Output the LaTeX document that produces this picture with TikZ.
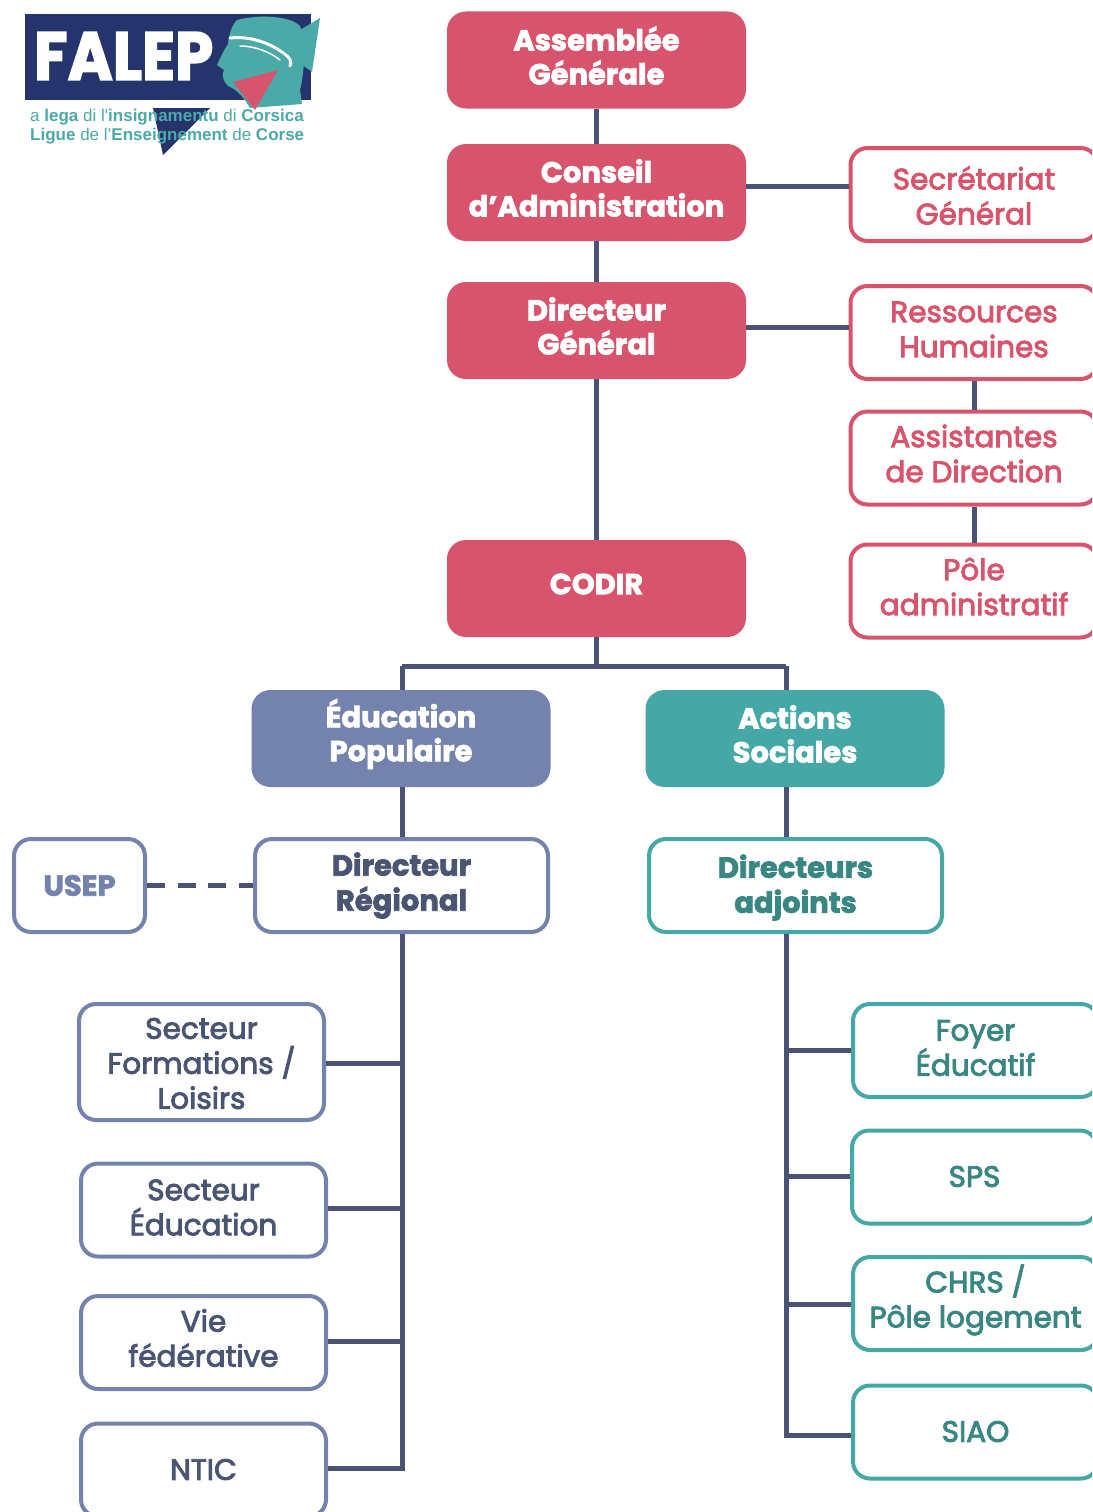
\documentclass[tikz,border=0pt]{standalone}
\usepackage{fontspec}
\setmainfont{Poppins}
\newfontfamily\hfont{Poppins}[BoldFeatures={FakeBold=2.5}]
\newfontfamily\bfont{Poppins}[UprightFeatures={FakeBold=3}]
\newfontfamily\lfont{Liberation Sans}
\definecolor{pinkc}{RGB}{216,83,108}
\definecolor{slatec}{RGB}{116,130,174}
\definecolor{tealc}{RGB}{69,168,166}
\definecolor{linec}{RGB}{74,83,115}
\definecolor{slatetxt}{RGB}{74,84,115}
\definecolor{tealtxt}{RGB}{56,135,131}
\definecolor{navyc}{RGB}{38,52,110}
\definecolor{logoteal}{RGB}{75,170,168}
\tikzset{
  boxbase/.style={rounded corners=17pt, inner sep=0pt, minimum width=295pt, minimum height=93pt, line width=4pt},
  filledbox/.style={boxbase, fill=#1, draw=#1},
  outbox/.style={boxbase, draw=#1, fill=white},
  pinkout/.style={outbox=pinkc, minimum width=247pt},
  slateout/.style={outbox=slatec, minimum width=245pt},
  tealout/.style={outbox=tealc, minimum width=245pt},
  htext/.style={align=center, inner sep=0pt, text=white, font=\hfont\bfseries\fontsize{29}{34}\selectfont},
  hdark/.style={align=center, inner sep=0pt, text=#1, font=\hfont\bfseries\fontsize{29}{35}\selectfont},
  btext/.style={align=center, inner sep=0pt, text=#1, font=\bfont\fontsize{29.5}{35}\selectfont},
  conn/.style={draw=linec, line width=5pt},
}
% [text shift] box style, text style, name, position, text
\newcommand\orgbox[6][4.5]{\node[#2, label={[#3, yshift=#1pt]center:{#6}}] (#4) at (#5) {};}
\begin{document}
\begin{tikzpicture}[x=1pt,y=-1pt]
\useasboundingbox (0,0) rectangle (1092,1512);
\clip (0,0) rectangle (1092,1512);
\fill[white] (0,0) rectangle (1092,1512);

% ---------- logo ----------
\fill[navyc] (25,14) rectangle (311,100);
\node[text=white, font=\hfont\bfseries\fontsize{68}{68}\selectfont, anchor=west, inner sep=0pt] (falep) at (34,56) {\scalebox{0.9}[1]{FALEP}};
\fill[logoteal] (237,20) .. controls (260,14) and (290,16) .. (300,26)
  .. controls (306,40) and (305,70) .. (300,90) -- (302,104) -- (250,108)
  .. controls (244,98) and (238,90) .. (228,86)
  .. controls (222,80) and (222,74) .. (224,70) -- (217,65)
  .. controls (220,58) and (224,50) .. (228,44)
  .. controls (229,34) and (232,25) .. (237,20) -- cycle;
\draw[white, line width=3pt, line cap=round] (230,38) .. controls (250,36) and (268,42) .. (285,54) .. controls (290,58) and (292,62) .. (290,66);
\draw[white, line width=1.5pt, line cap=round] (240,46) .. controls (255,46) and (270,52) .. (280,60);
\fill[logoteal] (275,45) -- (320,18) -- (312,72) -- cycle;
\fill[pinkc] (233,82) -- (278,70) -- (255,110) -- cycle;
\fill[navyc] (153,108) -- (210,108) -- (163,155) -- cycle;
\node[text=logoteal, font=\lfont\fontsize{17}{19}\selectfont, anchor=west, inner sep=0pt] (lega) at (30,117.5) {a \textbf{lega} di l'\textbf{insignamentu} di \textbf{Corsica}};
\node[text=logoteal, font=\lfont\fontsize{17}{19}\selectfont, anchor=west, inner sep=0pt] (ligue) at (30,136.5) {\textbf{Ligue} de l’\textbf{Enseignement} de \textbf{Corse}};

% ---------- top column ----------
\orgbox{filledbox=pinkc}{htext}{ag}{596.5,60}{Assemblée\\Générale}
\orgbox{filledbox=pinkc}{htext}{ca}{596.5,192.5}{Conseil\\d’Administration}
\orgbox{filledbox=pinkc}{htext}{dg}{596.5,330.5}{Directeur\\Général}
\orgbox{filledbox=pinkc}{htext}{codir}{596.5,588.5}{CODIR}

\orgbox[-1]{pinkout}{btext=pinkc}{sg}{974,194.5}{Secrétariat\\Général}
\orgbox[3]{pinkout}{btext=pinkc}{rh}{974,332.5}{Ressources\\Humaines}
\orgbox{pinkout}{btext=pinkc}{ad}{974,458}{Assistantes\\de Direction}
\orgbox{pinkout}{btext=pinkc}{pa}{974,591}{Pôle\\administratif}

% ---------- branches ----------
\orgbox{filledbox=slatec}{htext}{ep}{401,738.5}{Éducation\\Populaire}
\orgbox{filledbox=tealc}{htext}{as}{795,738.5}{Actions\\Sociales}

\orgbox[0]{slateout, minimum width=293pt}{hdark=slatetxt}{dr}{401.5,885.5}{Directeur\\Régional}
\orgbox[0]{slateout, minimum width=131pt}{hdark=slatec}{usep}{79.5,885.5}{USEP}
\orgbox[-2]{tealout, minimum width=293pt}{hdark=tealtxt}{da}{795.5,885.5}{Directeurs\\adjoints}

\orgbox[-1.5]{slateout, minimum height=116pt}{btext=slatetxt}{sfl}{201.5,1062}{Secteur\\Formations /\\Loisirs}
\orgbox[2.5]{slateout}{btext=slatetxt}{se}{203.5,1210}{Secteur\\Éducation}
\orgbox{slateout}{btext=slatetxt}{vf}{203.5,1342.5}{Vie\\fédérative}
\orgbox[0.5]{slateout}{btext=slatetxt}{ntic}{203.5,1470}{NTIC}

\orgbox[2.5]{tealout}{btext=tealtxt}{fe}{975.5,1050.5}{Foyer\\Éducatif}
\orgbox[0.5]{tealout}{btext=tealtxt}{sps}{974.5,1177}{SPS}
\orgbox[3.5]{tealout}{btext=tealtxt}{chrs}{975.5,1303.5}{CHRS /\\Pôle logement}
\orgbox[0.5]{tealout}{btext=tealtxt}{siao}{975.5,1432}{SIAO}

% ---------- connectors ----------
\coordinate (lbus) at (402,666);
\coordinate (rbus) at (786,666);
\draw[conn] (ag.south) -- (ca.north);
\draw[conn] (ca.south) -- (dg.north);
\draw[conn] (dg.south) -- (codir.north);
\draw[conn] (ca.east |- 0,186) -- (sg.west |- 0,186);
\draw[conn] (dg.east |- 0,327) -- (rh.west |- 0,327);
\draw[conn] (rh.south) -- (ad.north);
\draw[conn] (ad.south) -- (pa.north);
\draw[conn] (codir.south) -- (codir.south |- lbus);
\draw[conn] (lbus) -- (rbus);
\draw[conn] (lbus) -- (lbus |- ep.north);
\draw[conn] (rbus) -- (rbus |- as.north);
\draw[conn] (ep.south -| lbus) -- (dr.north -| lbus);
\draw[conn] (as.south -| rbus) -- (da.north -| rbus);
\draw[conn, dash pattern=on 18pt off 12.5pt] (usep.east) -- (dr.west);
% left tree
\draw[conn] (dr.south -| lbus) -- (lbus |- 0,1468) -- (ntic.east |- 0,1468);
\draw[conn] (sfl.east |- 0,1063) -- (lbus |- 0,1063);
\draw[conn] (se.east |- 0,1208) -- (lbus |- 0,1208);
\draw[conn] (vf.east |- 0,1341) -- (lbus |- 0,1341);
% right tree
\draw[conn] (da.south -| rbus) -- (rbus |- 0,1435) -- (siao.west |- 0,1435);
\draw[conn] (fe.west |- 0,1050) -- (rbus |- 0,1050);
\draw[conn] (sps.west |- 0,1176) -- (rbus |- 0,1176);
\draw[conn] (chrs.west |- 0,1304) -- (rbus |- 0,1304);
\end{tikzpicture}
\end{document}
